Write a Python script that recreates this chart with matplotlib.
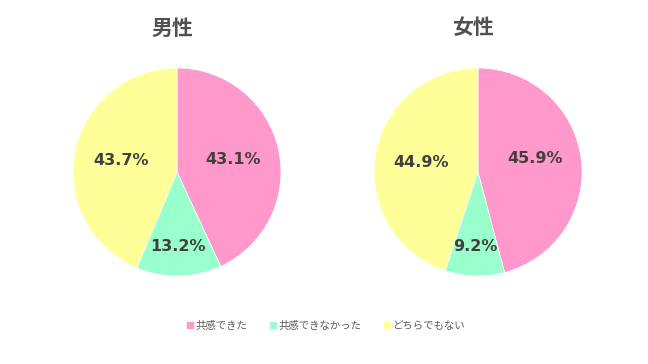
import numpy as np
import matplotlib.pyplot as plt
from matplotlib.lines import Line2D

plt.rcParams['font.family'] = ['Noto Sans CJK JP', 'DejaVu Sans']

# data
categories = ['共感できた', '共感できなかった', 'どちらでもない']
titles = ['男性', '女性']
male = [43.1, 13.2, 43.7]
female = [45.9, 9.2, 44.9]
colors = ['#FF99CC', '#99FFCC', '#FFFF99']

fig = plt.figure(figsize=(6.48, 3.64), dpi=100)

def draw_pie(cx, values, title):
    r = 104
    ax = fig.add_axes([(cx - r) / 648, (364 - 172 - r) / 364, 2 * r / 648, 2 * r / 364])
    wedges, texts = ax.pie(values, colors=colors, startangle=90, counterclock=False,
                           wedgeprops=dict(edgecolor='white', linewidth=0.5))
    ax.set_xlim(-1, 1)
    ax.set_ylim(-1, 1)
    ax.set_aspect('equal')
    for w, v in zip(wedges, values):
        ang = np.deg2rad((w.theta1 + w.theta2) / 2)
        d = 0.55 if v > 20 else 0.72
        ax.text(d * np.cos(ang), d * np.sin(ang) + (0.06 if v > 45 else 0), f'{v:.1f}%',
                ha='center', va='center', fontsize=11.5, fontweight='bold',
                color='#404040', family='DejaVu Sans')
    fig.text(cx / 648 - 0.008, 1 - 28 / 364, title, ha='center', va='center',
             fontsize=15, fontweight='bold', color='#505050')

draw_pie(177, male, titles[0])
draw_pie(478, female, titles[1])

handles = [Line2D([0], [0], marker='s', linestyle='', markersize=4,
                  markerfacecolor=c, markeredgecolor=c) for c in colors]
fig.legend(handles, categories, loc='center', bbox_to_anchor=(0.503, 1 - 326 / 364),
           ncol=3, frameon=False, fontsize=7.5, handlelength=0.6, handletextpad=0.2,
           columnspacing=2.2, labelcolor='#595959')

fig.savefig('out.png', dpi=100)
